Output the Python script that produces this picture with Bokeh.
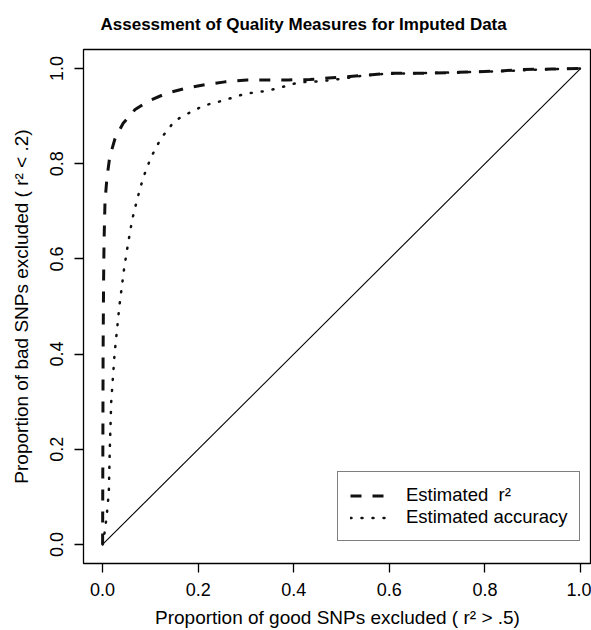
from bokeh.plotting import figure
from bokeh.models import Range1d, Legend, LegendItem, FixedTicker, CustomJSTickFormatter
from bokeh.embed import file_html
from bokeh.resources import INLINE

# ---- data ----
tick_values = [0.0, 0.2, 0.4, 0.6, 0.8, 1.0]

r2_x = [0.0, 0.0005, 0.001, 0.002, 0.003, 0.005, 0.009, 0.015, 0.026, 0.043, 0.068,
        0.096, 0.134, 0.176, 0.214, 0.256, 0.302, 0.344, 0.388, 0.434, 0.472, 0.54,
        0.60, 0.659, 0.745, 0.833, 0.88, 0.94, 1.0]
r2_y = [0.0, 0.2, 0.4, 0.55, 0.637, 0.721, 0.77, 0.815, 0.853, 0.885, 0.914,
        0.932, 0.948, 0.959, 0.966, 0.972, 0.976, 0.976, 0.976, 0.977, 0.980, 0.985,
        0.99, 0.99, 0.992, 0.995, 0.998, 0.999, 1.0]

acc_x = [0.0, 0.005, 0.009, 0.013, 0.015, 0.018, 0.025, 0.035, 0.045, 0.054, 0.062,
         0.073, 0.085, 0.101, 0.122, 0.15, 0.169, 0.19, 0.211, 0.253, 0.298, 0.344,
         0.387, 0.41, 0.455, 0.497, 0.545, 0.592, 0.65, 0.75, 0.85, 0.917, 1.0]
acc_y = [0.0, 0.03, 0.065, 0.11, 0.2, 0.3, 0.4, 0.5, 0.58, 0.637, 0.683,
         0.728, 0.771, 0.813, 0.853, 0.889, 0.901, 0.911, 0.922, 0.933, 0.947, 0.953,
         0.964, 0.971, 0.973, 0.978, 0.985, 0.989, 0.99, 0.992, 0.995, 0.998, 1.0]

diag_x = [0.0, 1.0]
diag_y = [0.0, 1.0]

title_text = "Assessment of Quality Measures for Imputed Data"
x_title = "Proportion of good SNPs excluded ( r\u00b2 > .5)"
y_title = "Proportion of bad SNPs excluded ( r\u00b2 < .2)"
legend_labels = ["Estimated \u00a0r\u00b2", "Estimated accuracy"]

FONT = "Liberation Sans"

p = figure(width=591, height=630, output_backend="svg", toolbar_location=None,
           x_range=Range1d(-0.04, 1.023), y_range=Range1d(-0.04, 1.04),
           min_border_left=83, min_border_right=0, min_border_top=48,
           min_border_bottom=67)

p.background_fill_color = "white"
p.border_fill_color = "white"
p.outline_line_color = "black"
p.outline_line_width = 1.3
p.xgrid.visible = False
p.ygrid.visible = False

# title
p.title.text = title_text
p.title.align = "left"
p.title.offset = 17
p.title.standoff = 28
p.title.vertical_align = "top"
p.title.text_font = FONT
p.title.text_font_style = "bold"
p.title.text_font_size = "17px"
p.title.text_color = "black"

for ax in (p.xaxis[0], p.yaxis[0]):
    ax.ticker = FixedTicker(ticks=tick_values)
    ax.formatter = CustomJSTickFormatter(code="return tick.toFixed(1);")
    ax.axis_line_color = None
    ax.major_tick_in = 0
    ax.major_tick_out = 9
    ax.major_tick_line_color = "black"
    ax.major_tick_line_width = 1.3
    ax.minor_tick_line_color = None
    ax.major_label_text_font = FONT
    ax.major_label_text_font_size = "18px"
    ax.major_label_text_color = "black"
    ax.axis_label_text_font = FONT
    ax.axis_label_text_font_size = "19px"
    ax.axis_label_text_font_style = "normal"
    ax.axis_label_text_color = "black"

p.xaxis[0].axis_label = x_title
p.xaxis[0].major_label_standoff = 10
p.xaxis[0].axis_label_standoff = 8
p.yaxis[0].axis_label = y_title
p.yaxis[0].major_label_orientation = "vertical"
p.yaxis[0].major_label_standoff = 11
p.yaxis[0].axis_label_standoff = 16

# diagonal
p.line(diag_x, diag_y, line_color="black", line_width=1.1)

# curves
r1 = p.line(r2_x, r2_y, line_color="#111111", line_width=3, line_dash="11 11",
            line_cap="butt", line_join="round")
r2 = p.line(acc_x, acc_y, line_color="#111111", line_width=2.5, line_dash="1 10",
            line_cap="round")

legend = Legend(items=[LegendItem(label=legend_labels[0], renderers=[r1]),
                       LegendItem(label=legend_labels[1], renderers=[r2])],
                location=(254, 22), padding=12, spacing=0, margin=0,
                glyph_width=38, glyph_height=19, label_height=19, label_standoff=18,
                label_text_font=FONT, label_text_font_size="18.5px",
                label_text_color="black",
                border_line_color="black", border_line_width=1.1,
                background_fill_color="white", background_fill_alpha=1.0)
p.add_layout(legend)

open("out.html", "w").write(file_html(p, INLINE))
